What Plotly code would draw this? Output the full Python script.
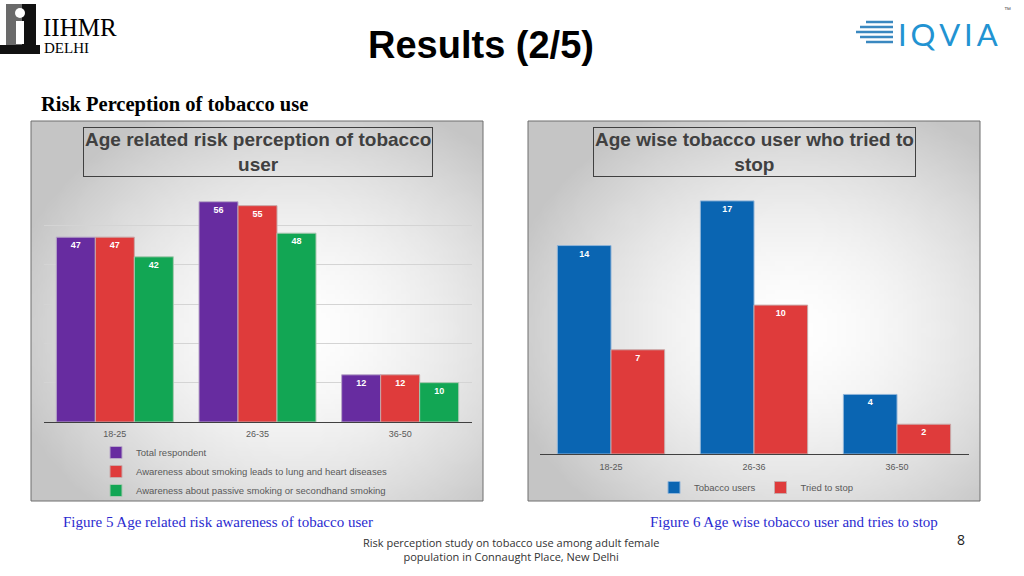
import base64
import struct
import zlib

import numpy as np
import plotly.graph_objects as go

# ---------------- data ----------------
age_groups_left = ["18-25", "26-35", "36-50"]
total_respondent = [47, 56, 12]
aware_lung_heart = [47, 55, 12]
aware_passive = [42, 48, 10]

age_groups_right = ["18-25", "26-36", "36-50"]
tobacco_users = [14, 17, 4]
tried_to_stop = [7, 10, 2]

W, H = 1024, 576


def px(x):
    return x / W


def py(y):
    return 1 - y / H


# ---------------- radial gradient background (PNG data URI) ----------------
def radial_png(w=96, h=80, cx=0.58, cy=0.55):
    yy, xx = np.mgrid[0:h, 0:w]
    dx = (xx / (w - 1) - cx) / 0.65
    dy = (yy / (h - 1) - cy) / 0.65
    r = np.clip(np.sqrt(dx ** 2 + dy ** 2), 0, 1)
    v = (255 - 58 * r ** 1.7).astype(np.uint8)
    arr = np.stack([v, v, v], axis=-1)
    raw = b"".join(b"\x00" + arr[i].tobytes() for i in range(h))

    def chunk(t, d):
        c = struct.pack(">I", len(d)) + t + d
        return c + struct.pack(">I", zlib.crc32(t + d) & 0xFFFFFFFF)

    png = (b"\x89PNG\r\n\x1a\n"
           + chunk(b"IHDR", struct.pack(">IIBBBBB", w, h, 8, 2, 0, 0, 0))
           + chunk(b"IDAT", zlib.compress(raw))
           + chunk(b"IEND", b""))
    return "data:image/png;base64," + base64.b64encode(png).decode()


bg_src = radial_png()

SANS = "Liberation Sans, Arial, sans-serif"
SERIF = "Liberation Serif, Times New Roman, serif"

PURPLE = "#672ca0"
RED = "#df3b3b"
GREEN = "#12a654"
BLUE = "#0a65b2"

fig = go.Figure()

label_font = dict(family=SANS, size=9, color="white", weight="bold")
bar_common = dict(textposition="inside", insidetextanchor="end", textangle=0,
                  texttemplate="%{y}", textfont=label_font, cliponaxis=False,
                  constraintext="none", hoverinfo="skip")

fig.add_trace(go.Bar(x=age_groups_left, y=total_respondent, name="Total respondent",
                     marker=dict(color=PURPLE, line=dict(color="#b8a8c8", width=1)),
                     xaxis="x", yaxis="y", legend="legend", **bar_common))
fig.add_trace(go.Bar(x=age_groups_left, y=aware_lung_heart,
                     name="Awareness about smoking leads to lung and heart diseases",
                     marker=dict(color=RED, line=dict(color="#c8a8a8", width=1)),
                     xaxis="x", yaxis="y", legend="legend", **bar_common))
fig.add_trace(go.Bar(x=age_groups_left, y=aware_passive,
                     name="Awareness about passive smoking or secondhand smoking",
                     marker=dict(color=GREEN, line=dict(color="#a8c8b0", width=1)),
                     xaxis="x", yaxis="y", legend="legend", **bar_common))

RIGHT_BAR_W = 0.375
fig.add_trace(go.Bar(x=age_groups_right, y=tobacco_users, name="Tobacco users",
                     width=RIGHT_BAR_W, offset=-RIGHT_BAR_W,
                     marker=dict(color=BLUE, line=dict(color="#8fb4d8", width=1)),
                     xaxis="x2", yaxis="y2", legend="legend2", **bar_common))
fig.add_trace(go.Bar(x=age_groups_right, y=tried_to_stop, name="Tried to stop",
                     width=RIGHT_BAR_W, offset=0,
                     marker=dict(color=RED, line=dict(color="#c8a8a8", width=1)),
                     xaxis="x2", yaxis="y2", legend="legend2", **bar_common))

tick_font = dict(family=SANS, size=9, color="#595959")

fig.update_layout(
    width=W, height=H, autosize=False,
    margin=dict(l=0, r=0, t=0, b=0),
    paper_bgcolor="white", plot_bgcolor="rgba(0,0,0,0)",
    barmode="group",
    bargap=0.18, bargroupgap=0,
    xaxis=dict(domain=[px(43.5), px(471.5)], anchor="y", showline=True,
               linecolor="#404040", linewidth=1, ticks="", tickfont=tick_font,
               ticklabelstandoff=3, showgrid=False, fixedrange=True),
    yaxis=dict(domain=[py(422), py(186)], anchor="x", range=[0, 60],
               tickvals=[10, 20, 30, 40, 50], showticklabels=False,
               showgrid=True, gridcolor="#d4d4d4", gridwidth=1, zeroline=False,
               fixedrange=True),
    xaxis2=dict(domain=[px(539.5), px(968.5)], anchor="y2", showline=True,
                linecolor="#404040", linewidth=1, ticks="", tickfont=tick_font,
                ticklabelstandoff=4, showgrid=False, fixedrange=True),
    yaxis2=dict(domain=[py(454), py(186)], anchor="x2", range=[0, 18],
                showticklabels=False, showgrid=False, zeroline=False,
                fixedrange=True),
    legend=dict(x=px(96), y=py(438), xanchor="left", yanchor="top",
                orientation="v", bgcolor="rgba(0,0,0,0)",
                font=dict(family=SANS, size=9.5, color="#595959"),
                itemwidth=30, tracegroupgap=0),
    legend2=dict(x=px(756), y=py(473), xanchor="center", yanchor="top",
                 orientation="h", bgcolor="rgba(0,0,0,0)",
                 font=dict(family=SANS, size=9.5, color="#595959"),
                 itemwidth=30),
    showlegend=True,
)

# chart boxes with gradient background
for x0, x1 in [(31, 483), (528, 980)]:
    fig.add_layout_image(dict(source=bg_src, xref="paper", yref="paper",
                              x=px(x0), y=py(121), sizex=px(x1) - px(x0),
                              sizey=py(121) - py(501), sizing="stretch",
                              layer="below", xanchor="left", yanchor="top"))
    fig.add_shape(type="rect", xref="paper", yref="paper",
                  x0=px(x0), x1=px(x1), y0=py(501), y1=py(121),
                  line=dict(color="#6f6f6f", width=1), layer="above")

annotations = [
    dict(text="<b>Age related risk perception of tobacco<br>user</b>",
         x=px(258), y=py(152), font=dict(family=SANS, size=19, color="#404040"),
         bordercolor="#404040", borderwidth=1, borderpad=1),
    dict(text="<b>Age wise tobacco user who tried to<br>stop</b>",
         x=px(754), y=py(152), font=dict(family=SANS, size=19, color="#404040"),
         bordercolor="#404040", borderwidth=1, borderpad=1),
    dict(text="<b>Results (2/5)</b>", x=px(481), y=py(45),
         font=dict(family=SANS, size=38, color="black")),
    dict(text="<b>Risk Perception of tobacco use</b>", x=px(39), y=py(104),
         xanchor="left", font=dict(family=SERIF, size=20.5, color="black")),
    dict(text="Figure 5 Age related risk awareness of tobacco user", x=px(61),
         y=py(522), xanchor="left", font=dict(family=SERIF, size=15, color="#2b2bd0")),
    dict(text="Figure 6 Age wise tobacco user and tries to stop", x=px(648),
         y=py(522), xanchor="left", font=dict(family=SERIF, size=15, color="#2b2bd0")),
    dict(text="Risk perception study on tobacco use among adult female<br>"
              "population in Connaught Place, New Delhi",
         x=px(511), y=py(549), font=dict(family="Open Sans, sans-serif", size=11,
                                          color="#333333")),
    dict(text="8", x=px(961), y=py(539), font=dict(family="Open Sans, sans-serif",
                                                    size=14, color="#222222")),
    # IIHMR logo text
    dict(text="IIHMR", x=px(41), y=py(27), xanchor="left",
         font=dict(family=SERIF, size=25, color="black")),
    dict(text="DELHI", x=px(42), y=py(48), xanchor="left",
         font=dict(family=SERIF, size=15, color="black")),
    # IQVIA logo text
    dict(text="I\u2009Q\u2009V\u2009I\u2009A", x=px(896), y=py(34), xanchor="left",
         font=dict(family="Lato, sans-serif", size=31, color="#2293d2")),
    dict(text="™", x=px(1007), y=py(9), font=dict(family=SANS, size=7, color="#555555")),
]
for a in annotations:
    a.setdefault("xref", "paper")
    a.setdefault("yref", "paper")
    a.setdefault("showarrow", False)
    a.setdefault("xanchor", "center")
    a.setdefault("yanchor", "middle")
    fig.add_annotation(**a)

# IIHMR emblem (decorative)
emblem = [
    (6, 22, 4, 52, "#6a6a6a"),
    (22, 36, 4, 52, "#111111"),
    (0, 40, 45, 54, "#111111"),
]
for x0, x1, y0, y1, c in emblem:
    fig.add_shape(type="rect", xref="paper", yref="paper", x0=px(x0), x1=px(x1),
                  y0=py(y1), y1=py(y0), fillcolor=c, line=dict(width=0))
fig.add_shape(type="circle", xref="paper", yref="paper", x0=px(15), x1=px(25),
              y0=py(18), y1=py(8), fillcolor="white", line=dict(width=0))
fig.add_shape(type="rect", xref="paper", yref="paper", x0=px(16), x1=px(24),
              y0=py(44), y1=py(21), fillcolor="white", line=dict(width=0))

# IQVIA stripes (decorative)
stripe_rows = [(22, 866, 893), (27, 860, 893), (32, 856, 893), (37, 860, 893), (42, 866, 893)]
for yy, xa, xb in stripe_rows:
    fig.add_shape(type="line", xref="paper", yref="paper", x0=px(xa), x1=px(xb),
                  y0=py(yy), y1=py(yy), line=dict(color="#3a88c0", width=2.5))

fig.write_html("out.html", config={"displayModeBar": False},
               post_script="document.body.style.margin='0px';")
